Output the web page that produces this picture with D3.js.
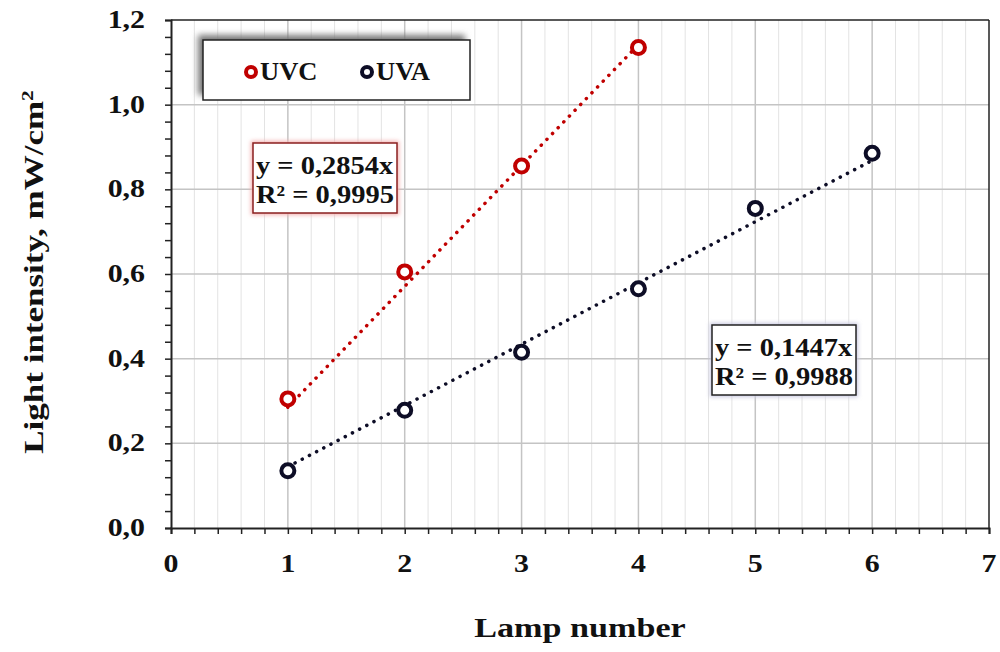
<!DOCTYPE html>
<html><head><meta charset="utf-8">
<script src="https://cdn.jsdelivr.net/npm/d3@7"></script>
<style>body{margin:0;background:#fff}text{font-family:"Liberation Serif","Times New Roman",serif;font-weight:bold}</style>
</head><body>
<svg id="c" width="1000" height="652"></svg>
<script>
const lampNumbers = [1,2,3,4,5,6];
const uvcValues = [0.305, 0.605, 0.855, 1.135];
const uvaValues = [0.135, 0.278, 0.415, 0.565, 0.755, 0.885];
const uvcSlope = 0.2854, uvaSlope = 0.1447;
const xTicks = [0,1,2,3,4,5,6,7];
const yTicks = [0,0.2,0.4,0.6,0.8,1.0,1.2];
const uvcEq = ["y = 0,2854x","R² = 0,9995"];
const uvaEq = ["y = 0,1447x","R² = 0,9988"];

const svg = d3.select("#c");
const L=171, R=989, T=20, B=528;
const x = d3.scaleLinear().domain([0,7]).range([L,R]);
const y = d3.scaleLinear().domain([0,1.2]).range([B,T]);
const red="#c00000", navy="#0d0d26";
const fmt = d => d3.format(".1f")(d).replace(".",",");

function stext(px,py,str,size,sx,anchor,rot){
  const t = svg.append("text")
   .attr("transform",`translate(${px},${py})${rot?` rotate(${rot})`:""} scale(${sx},1)`)
   .attr("font-size",size).attr("fill","#111").attr("text-anchor",anchor||"start");
  if(str!==null) t.text(str);
  return t;
}

// grid
const g = svg.append("g");
const minorX = d3.range(0,7.0001,0.2).filter(v=>Math.abs(v-Math.round(v))>1e-6);
g.selectAll(".mx").data(minorX).enter().append("line")
 .attr("x1",d=>x(d)).attr("x2",d=>x(d)).attr("y1",T).attr("y2",B)
 .attr("stroke","#e3e3e3").attr("stroke-width",1);
g.selectAll(".Mx").data(xTicks.slice(1,-1)).enter().append("line")
 .attr("x1",d=>x(d)).attr("x2",d=>x(d)).attr("y1",T).attr("y2",B)
 .attr("stroke","#c4c4c4").attr("stroke-width",1.5);
g.selectAll(".My").data(yTicks.slice(1,-1)).enter().append("line")
 .attr("x1",L).attr("x2",R).attr("y1",d=>y(d)).attr("y2",d=>y(d))
 .attr("stroke","#c4c4c4").attr("stroke-width",1.5);

// frame
svg.append("line").attr("x1",L).attr("x2",R).attr("y1",T).attr("y2",T).attr("stroke","#222").attr("stroke-width",1.5);
svg.append("line").attr("x1",R).attr("x2",R).attr("y1",T).attr("y2",B).attr("stroke","#222").attr("stroke-width",1.5);

// axes
const xAxis = d3.axisBottom(x).tickValues(d3.range(0,7.0001,0.2)).tickSize(6).tickFormat("");
const xa = svg.append("g").attr("transform",`translate(0,${B})`).call(xAxis);
xa.select(".domain").attr("stroke","#222").attr("stroke-width",2);
xa.selectAll(".tick line").attr("stroke","#222").attr("stroke-width",1.5);
xTicks.forEach(d=>stext(x(d),B+44,String(d),26,1.15,"middle"));

const yAxis = d3.axisLeft(y).tickValues(d3.range(0,1.2001,0.04)).tickSize(6).tickFormat("");
const ya = svg.append("g").attr("transform",`translate(${L},0)`).call(yAxis);
ya.select(".domain").attr("stroke","#222").attr("stroke-width",2);
ya.selectAll(".tick line").attr("stroke","#222").attr("stroke-width",1.5);
yTicks.forEach(d=>stext(L-26,y(d)+8,fmt(d),26,1.15,"end"));

// titles
stext(x(3.5),637,"Lamp number",28,1.22,"middle");
const yt = stext(43,(T+B)/2-2,null,28,1.25,"middle",-90);
yt.append("tspan").text("Light intensity, mW/cm");
yt.append("tspan").attr("dy",-10).attr("font-size",17).text("2");

// trendlines
function trend(slope, x0, x1, col){
  svg.append("line").attr("x1",x(x0)).attr("y1",y(slope*x0)).attr("x2",x(x1)).attr("y2",y(slope*x1))
   .attr("stroke",col).attr("stroke-width",3.5).attr("stroke-linecap","round").attr("stroke-dasharray","0.1 8");
}
trend(uvcSlope,1,4,red);
trend(uvaSlope,1,6,navy);

// points
function pts(vals,col){
  svg.selectAll(null).data(vals).enter().append("circle")
   .attr("cx",(d,i)=>x(lampNumbers[i])).attr("cy",d=>y(d)).attr("r",6.5)
   .attr("fill","#fff").attr("stroke",col).attr("stroke-width",4);
}
pts(uvcValues,red);
pts(uvaValues,navy);

// legend with shadow
const defs = svg.append("defs");
const f = defs.append("filter").attr("id","blur").attr("x","-20%").attr("y","-50%").attr("width","140%").attr("height","200%");
f.append("feGaussianBlur").attr("stdDeviation",3);
svg.append("rect").attr("x",198).attr("y",35).attr("width",267).attr("height",60).attr("fill","#777").attr("filter","url(#blur)");
svg.append("rect").attr("x",203).attr("y",40).attr("width",267).attr("height",60).attr("fill","#fff").attr("stroke","#222").attr("stroke-width",1.5);
const leg=[["UVC",red,251],["UVA",navy,367]];
leg.forEach(([n,c,lx])=>{
  svg.append("circle").attr("cx",lx).attr("cy",72).attr("r",5).attr("fill","#fff").attr("stroke",c).attr("stroke-width",4);
  stext(lx+9,80,n,26,1.02,"start");
});

// equation boxes
const f2 = defs.append("filter").attr("id","glow").attr("x","-10%").attr("y","-20%").attr("width","120%").attr("height","140%");
f2.append("feGaussianBlur").attr("stdDeviation",2);
function eq(lines,bx,by,col,glow){
  svg.append("rect").attr("x",bx-2).attr("y",by-2).attr("width",148).attr("height",74).attr("fill",glow).attr("filter","url(#glow)");
  svg.append("rect").attr("x",bx).attr("y",by).attr("width",144).attr("height",70).attr("fill","#fff").attr("stroke",col).attr("stroke-width",1.5);
  lines.forEach((t,i)=>stext(bx+3,by+31+i*29,t,25,1.14,"start"));
}
eq(uvcEq,253,143,"#8a1f1f","#f3b0b0");
eq(uvaEq,712,325,"#222","#c8c8e0");
</script>
</body></html>
